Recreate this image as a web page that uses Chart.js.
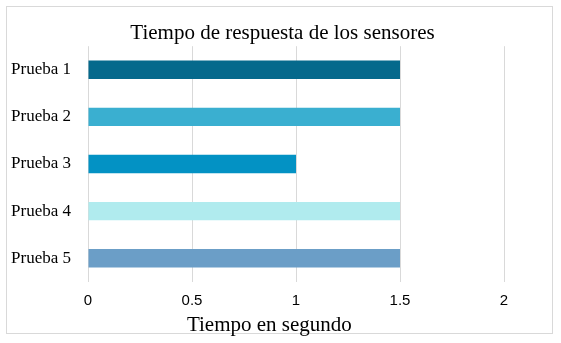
<!DOCTYPE html>
<html>
<head>
<meta charset="utf-8">
<script src="https://cdn.jsdelivr.net/npm/chart.js@4/dist/chart.umd.min.js"></script>
<style>
  html, body { margin: 0; padding: 0; background: #fff; }
  #wrap { position: relative; width: 561px; height: 343px; }
  #frame {
    position: absolute; left: 6px; top: 6px; width: 547px; height: 328px;
    border: 1px solid #d9d9d9; box-sizing: border-box;
  }
  #chart { position: absolute; left: 0; top: 0; }
</style>
</head>
<body>
<div id="wrap">
  <div id="frame"></div>
  <canvas id="chart" width="561" height="343"></canvas>
</div>
<script>
// Datos
const categorias = ['Prueba 1', 'Prueba 2', 'Prueba 3', 'Prueba 4', 'Prueba 5'];
const tiempos    = [1.5, 1.5, 1, 1.5, 1.5];
const colores    = ['#05698c', '#3aafd0', '#0392c4', '#b0ebee', '#6b9ec7'];
const ticksX     = [0, 0.5, 1, 1.5, 2];

(function () {

  const ctx = document.getElementById('chart');

  const serif = 'Liberation Serif, Times New Roman, serif';
  const sans  = 'Liberation Sans, Arial, sans-serif';

  new Chart(ctx, {
    type: 'bar',
    data: {
      labels  : categorias,
      datasets: [{
        data              : tiempos,
        backgroundColor   : colores,
        borderWidth       : 0,
        categoryPercentage: 0.8,
        barPercentage     : 0.49
      }]
    },
    options: {
      indexAxis          : 'y',
      responsive         : false,
      animation          : false,
      maintainAspectRatio: false,
      layout: {
        padding: { left: 10, right: 6, top: 10, bottom: 5 }
      },
      plugins: {
        legend : { display: false },
        tooltip: { enabled: false },
        title  : {
          display: true,
          text   : 'Tiempo de respuesta de los sensores',
          color  : '#000',
          font   : { family: serif, size: 21, weight: 'normal' },
          padding: { top: 11, bottom: 0 }
        },
        // título del eje, un poco corrido a la izquierda con espacios
        subtitle: {
          display : true,
          position: 'bottom',
          text    : 'Tiempo en segundo     ',
          color   : '#000',
          font    : { family: serif, size: 21, weight: 'normal' },
          padding : { top: 2, bottom: 0 }
        }
      },
      scales: {
        x: {
          min : ticksX[0],
          max : ticksX[ticksX.length - 1],
          afterBuildTicks: (scale) => {
            scale.ticks = ticksX.map(v => ({ value: v }));
          },
          grid  : { color: '#d9d9d9', lineWidth: 1, drawTicks: false },
          border: { display: false },
          ticks : {
            color  : '#000',
            padding: 10,
            font   : { family: sans, size: 15 },
            callback: (v) => String(v)
          },
          afterFit: (scale) => { scale.height = 29; }
        },
        y: {
          grid  : { display: false, drawTicks: false },
          border: { display: false },
          ticks : {
            color  : '#000',
            padding: 17,
            font   : { family: serif, size: 17 }
          },
          afterFit: (scale) => { scale.width = 78; }
        },
        // eje vacío para dejar el margen derecho
        margen: {
          type    : 'linear',
          position: 'right',
          grid    : { display: false, drawTicks: false },
          border  : { display: false },
          ticks   : { display: false },
          afterFit: (scale) => { scale.width = 51; }
        }
      }
    }
  });

})();
</script>
</body>
</html>
